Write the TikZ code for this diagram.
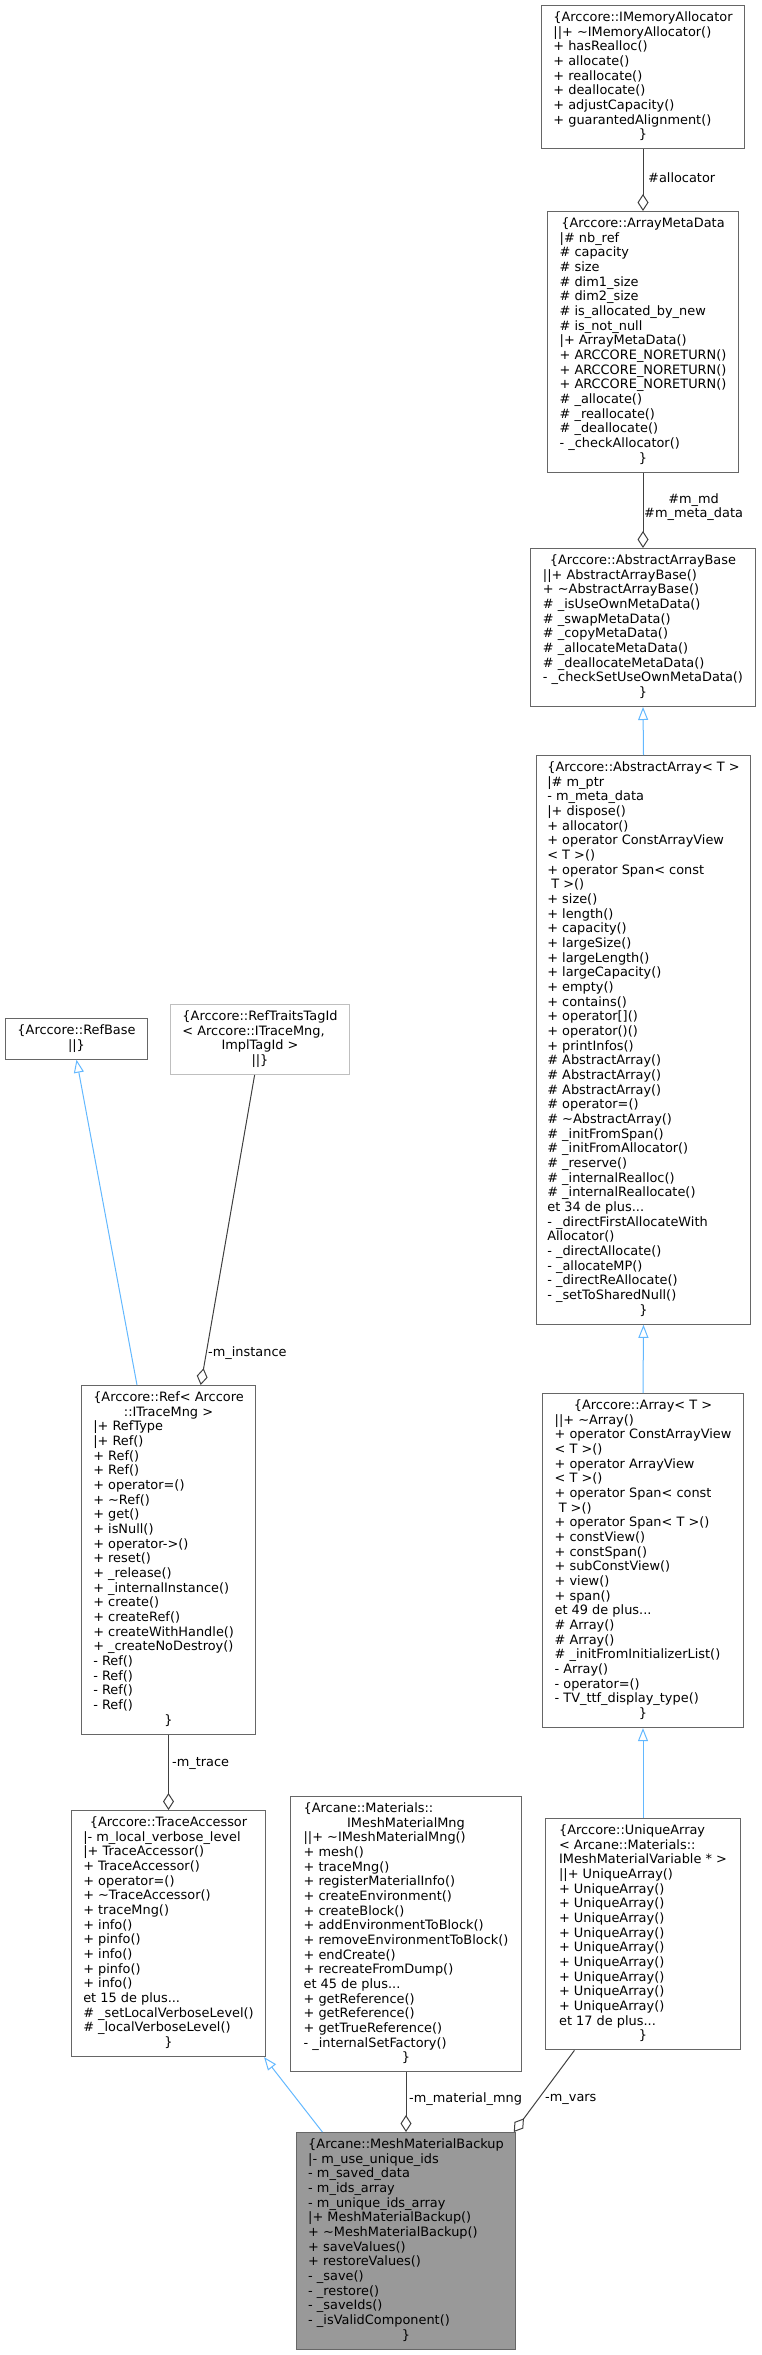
\documentclass[tikz,border=0pt]{standalone}
\usepackage{fontspec}
\setmainfont{DejaVu Sans}
\usetikzlibrary{arrows.meta,calc}
\definecolor{boxgray}{HTML}{666666}
\definecolor{ghostgray}{HTML}{BFBFBF}
\definecolor{edgegray}{HTML}{404040}
\definecolor{inheritblue}{HTML}{63B8FF}
\definecolor{focusfill}{HTML}{999999}
\newcommand{\ctr}[1]{\multicolumn{1}{@{}c@{}}{#1}}
\begin{document}
\begin{tikzpicture}[x=1pt,y=-1pt,
		font=\fontsize{12.9}{14.67}\selectfont,
		classbox/.style={draw=boxgray, line width=1pt, fill=white, anchor=north west, inner sep=0pt},
		composition/.style={draw=edgegray, line width=1pt, -{Diamond[open, length=17pt, width=11pt]}},
		inheritance/.style={draw=inheritblue, line width=1pt, -{Triangle[open, length=13pt, width=10pt]}},
		lbl/.style={inner sep=0pt, anchor=west}]
		\useasboundingbox (0,0) rectangle (761,2355);
		% right column: the array classes
		\node[classbox, minimum width=203pt, minimum height=143.4pt] (alloc) at (541,5) {\begin{tabular}{@{}l@{}}
			\ctr{\{Arccore::IMemoryAllocator}\\
			||+ \textasciitilde IMemoryAllocator()\\
			+ hasRealloc()\\
			+ allocate()\\
			+ reallocate()\\
			+ deallocate()\\
			+ adjustCapacity()\\
			+ guarantedAlignment()\\
			\ctr{\}}
		\end{tabular}};
		\node[classbox, minimum width=191pt, minimum height=260.7pt] (metadata) at (547,211) {\begin{tabular}{@{}l@{}}
			\ctr{\{Arccore::ArrayMetaData}\\
			|\# nb\_ref\\
			\# capacity\\
			\# size\\
			\# dim1\_size\\
			\# dim2\_size\\
			\# is\_allocated\_by\_new\\
			\# is\_not\_null\\
			|+ ArrayMetaData()\\
			+ ARCCORE\_NORETURN()\\
			+ ARCCORE\_NORETURN()\\
			+ ARCCORE\_NORETURN()\\
			\# \_allocate()\\
			\# \_reallocate()\\
			\# \_deallocate()\\
			- \_checkAllocator()\\
			\ctr{\}}
		\end{tabular}};
		\node[classbox, minimum width=225pt, minimum height=158pt] (arraybase) at (530,548) {\begin{tabular}{@{}l@{}}
			\ctr{\{Arccore::AbstractArrayBase}\\
			||+ AbstractArrayBase()\\
			+ \textasciitilde AbstractArrayBase()\\
			\# \_isUseOwnMetaData()\\
			\# \_swapMetaData()\\
			\# \_copyMetaData()\\
			\# \_allocateMetaData()\\
			\# \_deallocateMetaData()\\
			- \_checkSetUseOwnMetaData()\\
			\ctr{\}}
		\end{tabular}};
		\node[classbox, minimum width=214pt, minimum height=568.8pt] (abstractarray) at (536,755) {\begin{tabular}{@{}l@{}}
			\ctr{\{Arccore::AbstractArray< T >}\\
			|\# m\_ptr\\
			- m\_meta\_data\\
			|+ dispose()\\
			+ allocator()\\
			+ operator ConstArrayView\\
			< T >()\\
			+ operator Span< const\\
			\ T >()\\
			+ size()\\
			+ length()\\
			+ capacity()\\
			+ largeSize()\\
			+ largeLength()\\
			+ largeCapacity()\\
			+ empty()\\
			+ contains()\\
			+ operator[]()\\
			+ operator()()\\
			+ printInfos()\\
			\# AbstractArray()\\
			\# AbstractArray()\\
			\# AbstractArray()\\
			\# operator=()\\
			\# \textasciitilde AbstractArray()\\
			\# \_initFromSpan()\\
			\# \_initFromAllocator()\\
			\# \_reserve()\\
			\# \_internalRealloc()\\
			\# \_internalReallocate()\\
			et 34 de plus...\\
			- \_directFirstAllocateWith\\
			Allocator()\\
			- \_directAllocate()\\
			- \_allocateMP()\\
			- \_directReAllocate()\\
			- \_setToSharedNull()\\
			\ctr{\}}
		\end{tabular}};
		\node[classbox, minimum width=201pt, minimum height=334.1pt] (array) at (542,1393) {\begin{tabular}{@{}l@{}}
			\ctr{\{Arccore::Array< T >}\\
			||+ \textasciitilde Array()\\
			+ operator ConstArrayView\\
			< T >()\\
			+ operator ArrayView\\
			< T >()\\
			+ operator Span< const\\
			\ T >()\\
			+ operator Span< T >()\\
			+ constView()\\
			+ constSpan()\\
			+ subConstView()\\
			+ view()\\
			+ span()\\
			et 49 de plus...\\
			\# Array()\\
			\# Array()\\
			\# \_initFromInitializerList()\\
			- Array()\\
			- operator=()\\
			- TV\_ttf\_display\_type()\\
			\ctr{\}}
		\end{tabular}};
		\node[classbox, minimum width=195pt, minimum height=231.4pt] (uniquearray) at (545,1818) {\begin{tabular}{@{}l@{}}
			\{Arccore::UniqueArray\\
			< Arcane::Materials::\\
			\ctr{IMeshMaterialVariable * >}\\
			||+ UniqueArray()\\
			+ UniqueArray()\\
			+ UniqueArray()\\
			+ UniqueArray()\\
			+ UniqueArray()\\
			+ UniqueArray()\\
			+ UniqueArray()\\
			+ UniqueArray()\\
			+ UniqueArray()\\
			+ UniqueArray()\\
			et 17 de plus...\\
			\ctr{\}}
		\end{tabular}};
		% left column: references and traces
		\node[classbox, minimum width=142pt, minimum height=40.7pt] (refbase) at (5,1018) {\begin{tabular}{@{}l@{}}
			\ctr{\{Arccore::RefBase}\\
			\ctr{||\}}
		\end{tabular}};
		\node[classbox, draw=ghostgray, minimum width=179pt, minimum height=70pt] (reftraits) at (170,1004) {\begin{tabular}{@{}l@{}}
			\{Arccore::RefTraitsTagId\\
			< Arccore::ITraceMng,\\
			\ctr{ImplTagId >}\\
			\ctr{||\}}
		\end{tabular}};
		\node[classbox, minimum width=174pt, minimum height=348.7pt] (ref) at (81,1385) {\begin{tabular}{@{}l@{}}
			\{Arccore::Ref< Arccore\\
			\ctr{::ITraceMng >}\\
			|+ RefType\\
			|+ Ref()\\
			+ Ref()\\
			+ Ref()\\
			+ operator=()\\
			+ \textasciitilde Ref()\\
			+ get()\\
			+ isNull()\\
			+ operator->()\\
			+ reset()\\
			+ \_release()\\
			+ \_internalInstance()\\
			+ create()\\
			+ createRef()\\
			+ createWithHandle()\\
			+ \_createNoDestroy()\\
			- Ref()\\
			- Ref()\\
			- Ref()\\
			- Ref()\\
			\ctr{\}}
		\end{tabular}};
		\node[classbox, minimum width=194pt, minimum height=246.1pt] (trace) at (71,1810) {\begin{tabular}{@{}l@{}}
			\ctr{\{Arccore::TraceAccessor}\\
			|- m\_local\_verbose\_level\\
			|+ TraceAccessor()\\
			+ TraceAccessor()\\
			+ operator=()\\
			+ \textasciitilde TraceAccessor()\\
			+ traceMng()\\
			+ info()\\
			+ pinfo()\\
			+ info()\\
			+ pinfo()\\
			+ info()\\
			et 15 de plus...\\
			\# \_setLocalVerboseLevel()\\
			\# \_localVerboseLevel()\\
			\ctr{\}}
		\end{tabular}};
		\node[classbox, minimum width=231pt, minimum height=275.4pt] (matmng) at (290,1796) {\begin{tabular}{@{}l@{}}
			\{Arcane::Materials::\\
			\ctr{IMeshMaterialMng}\\
			||+ \textasciitilde IMeshMaterialMng()\\
			+ mesh()\\
			+ traceMng()\\
			+ registerMaterialInfo()\\
			+ createEnvironment()\\
			+ createBlock()\\
			+ addEnvironmentToBlock()\\
			+ removeEnvironmentToBlock()\\
			+ endCreate()\\
			+ recreateFromDump()\\
			et 45 de plus...\\
			+ getReference()\\
			+ getReference()\\
			+ getTrueReference()\\
			- \_internalSetFactory()\\
			\ctr{\}}
		\end{tabular}};
		\node[classbox, fill=focusfill, minimum width=219pt, minimum height=216.7pt] (backup) at (296,2132) {\begin{tabular}{@{}l@{}}
			\ctr{\{Arcane::MeshMaterialBackup}\\
			|- m\_use\_unique\_ids\\
			- m\_saved\_data\\
			- m\_ids\_array\\
			- m\_unique\_ids\_array\\
			|+ MeshMaterialBackup()\\
			+ \textasciitilde MeshMaterialBackup()\\
			+ saveValues()\\
			+ restoreValues()\\
			- \_save()\\
			- \_restore()\\
			- \_saveIds()\\
			- \_isValidComponent()\\
			\ctr{\}}
		\end{tabular}};
		% connectors
		\draw[composition] (alloc.south) -- (metadata.north);
		\draw[composition] (metadata.south) -- (arraybase.north);
		\draw[inheritance] (abstractarray.north) -- (arraybase.south);
		\draw[inheritance] (array.north) -- (abstractarray.south);
		\draw[inheritance] (uniquearray.north) -- (array.south);
		\draw[inheritance] ($(ref.north west)!0.32!(ref.north east)$) -- (refbase.south);
		\draw[composition] ($(reftraits.south west)!0.47!(reftraits.south east)$) -- ($(ref.north west)!0.684!(ref.north east)$);
		\draw[composition] (ref.south) -- (trace.north);
		\draw[inheritance] ($(backup.north west)!0.12!(backup.north east)$) -- ($(trace.south west)!0.99!(trace.south east)$);
		\draw[composition] (matmng.south) -- (backup.north);
		\draw[composition] ($(uniquearray.south west)!0.15!(uniquearray.south east)$) -- ($(backup.north west)!0.99!(backup.north east)$);
		% edge labels
		\node[lbl] (lallocator) at (648,178) {\#allocator};
		\node[lbl, align=center] (lmetadata) at (644,507) {\#m\_md\\\#m\_meta\_data};
		\node[lbl] (linstance) at (208,1353) {-m\_instance};
		\node[lbl] (ltrace) at (172,1763) {-m\_trace};
		\node[lbl] (lmatmng) at (409,2099) {-m\_material\_mng};
		\node[lbl] (lvars) at (545,2099) {-m\_vars};
	\end{tikzpicture}
\end{document}
